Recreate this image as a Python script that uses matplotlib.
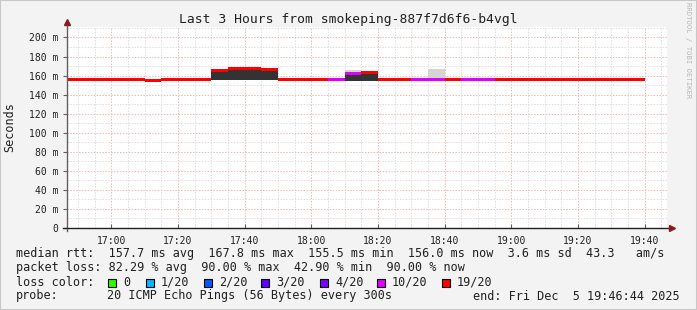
import numpy as np
import matplotlib
matplotlib.use("Agg")
import matplotlib.pyplot as plt
from matplotlib.lines import Line2D
from matplotlib.patches import Rectangle

# data (5 minute intervals, start time of each step)
starts = ["16:45", "16:50", "16:55", "17:00", "17:05", "17:10", "17:15", "17:20",
          "17:25", "17:30", "17:35", "17:40", "17:45", "17:50", "17:55", "18:00",
          "18:05", "18:10", "18:15", "18:20", "18:25", "18:30", "18:35", "18:40",
          "18:45", "18:50", "18:55", "19:00", "19:05", "19:10", "19:15", "19:20",
          "19:25", "19:30", "19:35"]
median_ms = [156.0, 156.0, 156.0, 156.0, 156.0, 155.3, 156.0, 156.3,
             156.0, 165.0, 167.8, 167.8, 166.0, 155.6, 155.6, 156.0,
             156.0, 162.5, 163.2, 156.0, 156.0, 156.0, 156.0, 155.6,
             155.6, 156.0, 156.0, 156.0, 156.0, 156.0, 156.0, 155.6,
             155.6, 156.0, 156.0]
loss = ["19/20"] * 16 + ["10/20", "10/20", "19/20", "19/20", "19/20", "10/20", "10/20",
        "19/20", "10/20", "10/20"] + ["19/20"] * 9
# dark smoke (bulk of pings)
smoke_lo = [np.nan] * 9 + [155.0, 155.0, 155.0, 155.0] + [np.nan] * 4 + [154.5, 154.5] + [np.nan] * 16
smoke_hi = [np.nan] * 9 + [163.5, 166.5, 166.5, 164.5] + [np.nan] * 4 + [161.3, 162.0] + [np.nan] * 16
# light smoke (outliers)
light_lo = [np.nan] * 17 + [161.3] + [np.nan] * 4 + [157.5] + [np.nan] * 12
light_hi = [np.nan] * 17 + [166.2] + [np.nan] * 4 + [166.5] + [np.nan] * 12

loss_labels = ["0", "1/20", "2/20", "3/20", "4/20", "10/20", "19/20"]
loss_colors = ["#26ff00", "#00b8ff", "#0059ff", "#5e00ff", "#7e00ff", "#dd00ff", "#ff0000"]
tick_labels = ["17:00", "17:20", "17:40", "18:00", "18:20", "18:40", "19:00", "19:20", "19:40"]

def minutes(s):
    h, m = s.split(":")
    return (int(h) - 17) * 60 + int(m)

W, H = 697, 310
def fx(x):
    return x / W
def fy(y):
    return 1 - y / H

mono = "DejaVu Sans Mono"
plt.rcParams["font.family"] = mono

fig = plt.figure(figsize=(W / 100, H / 100), dpi=100)
fig.patch.set_facecolor("#f3f3f3")
fig.add_artist(Rectangle((0, 0), 1, 1, transform=fig.transFigure, fill=False,
                         edgecolor="#c8c8c8", lw=1.5))

ax = fig.add_axes([fx(67), fy(228), 600 / W, 201 / H])
ax.set_facecolor("white")
x0 = -(13 + 16 / 60)
ax.set_xlim(x0, x0 + 180)
ax.set_ylim(0, 211)

# grid
for v in range(-10, 170, 5):
    major = v % 20 == 0
    ax.axvline(v, color="#f7b4b4" if major else "#dedede", lw=0.7,
               ls=(0, (1.5, 1.5)), zorder=1)
for v in range(10, 211, 10):
    major = v % 20 == 0
    ax.axhline(v, color="#f7b4b4" if major else "#dedede", lw=0.7,
               ls=(0, (1.5, 1.5)), zorder=1)

xs = np.array([minutes(s) for s in starts], dtype=float)
cmap = dict(zip(loss_labels, loss_colors))
sl = np.array(smoke_lo); sh = np.array(smoke_hi)
ll = np.array(light_lo); lh = np.array(light_hi)
ax.bar(xs, lh - ll, bottom=ll, width=5, align="edge", color="#d4d4d4", lw=0, zorder=2)
ax.bar(xs, sh - sl, bottom=sl, width=5, align="edge", color="#333333", lw=0, zorder=3)
med = np.array(median_ms)
ax.bar(xs, 3.2, bottom=med - 1.6, width=5, align="edge",
       color=[cmap[l] for l in loss], lw=0, zorder=4)

ax.set_xticks([minutes(t) for t in tick_labels])
ax.set_xticklabels(tick_labels, fontsize=7)
ax.set_yticks(range(0, 201, 20))
ax.set_yticklabels(["0"] + ["%d m" % v for v in range(20, 201, 20)], fontsize=7)
ax.tick_params(axis="both", length=3, width=0.8, color="#606060", pad=3,
               labelcolor="#202020")
ax.tick_params(axis="x", direction="in", pad=6)
for sp in ax.spines.values():
    sp.set_visible(False)

# axes lines with arrows
fig.add_artist(Line2D([fx(67), fx(67)], [fy(231), fy(24)], color="#606060", lw=1))
fig.add_artist(Line2D([fx(63), fx(670)], [fy(228), fy(228)], color="#202020", lw=1))
fig.add_artist(Line2D([fx(67)], [fy(22)], marker="^", color="#8b1a1a", ms=4))
fig.add_artist(Line2D([fx(672)], [fy(228)], marker=">", color="#8b1a1a", ms=4))

fig.text(fx(348), fy(19), "Last 3 Hours from smokeping-887f7d6f6-b4vgl",
         ha="center", va="center", fontsize=9.4, color="#202020")
fig.text(fx(10), fy(127), "Seconds", rotation=90, ha="center", va="center",
         fontsize=8.5, color="#202020")
fig.text(fx(688), fy(50), "RRDTOOL / TOBI OETIKER", rotation=270, ha="center",
         va="center", fontsize=5.2, color="#b8b8b8")

fs = 8.5
fig.text(fx(16), fy(254), "median rtt:  157.7 ms avg  167.8 ms max  155.5 ms min  "
         "156.0 ms now  3.6 ms sd  43.3   am/s", fontsize=fs, va="center", color="#202020")
fig.text(fx(16), fy(268), "packet loss: 82.29 % avg  90.00 % max  42.90 % min  90.00 % now",
         fontsize=fs, va="center", color="#202020")
fig.text(fx(16), fy(282), "loss color:", fontsize=fs, va="center", color="#202020")
box_x = [108, 146, 204, 261, 320, 377, 442]
for bx, lab, col in zip(box_x, loss_labels, loss_colors):
    fig.add_artist(Rectangle((fx(bx), fy(286.5)), 8 / W, 8 / H, transform=fig.transFigure,
                             facecolor=col, edgecolor="black", lw=0.8))
    fig.text(fx(bx + 15), fy(282), lab, fontsize=fs, va="center", color="#202020")
fig.text(fx(16), fy(296), "probe:", fontsize=fs, va="center", color="#202020")
fig.text(fx(107), fy(296), "20 ICMP Echo Pings (56 Bytes) every 300s", fontsize=fs,
         va="center", color="#202020")
fig.text(fx(680), fy(296), "end: Fri Dec  5 19:46:44 2025", fontsize=fs, va="center",
         ha="right", color="#202020")

fig.savefig("out.png", dpi=100, facecolor=fig.get_facecolor())
